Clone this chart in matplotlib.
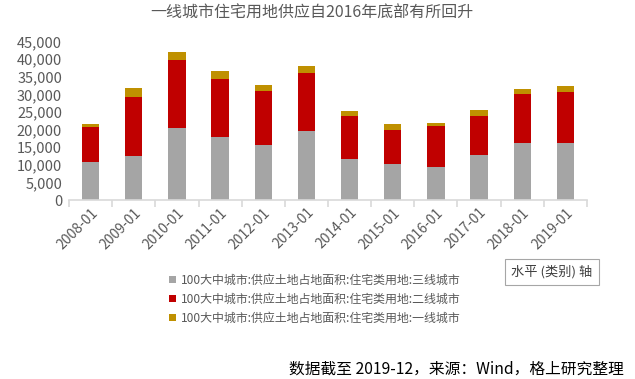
import matplotlib.pyplot as plt
import matplotlib.transforms as mtransforms
import numpy as np

plt.rcParams['font.family'] = ['Noto Sans CJK SC', 'DejaVu Sans']

categories = ['2008-01', '2009-01', '2010-01', '2011-01', '2012-01', '2013-01',
              '2014-01', '2015-01', '2016-01', '2017-01', '2018-01', '2019-01']
tier3 = [10800, 12500, 20450, 17900, 15650, 19600, 11650, 10250, 9400, 12800, 16200, 16200]
tier2 = [9950, 16750, 19350, 16500, 15350, 16500, 12200, 9650, 11650, 11100, 13900, 14500]
tier1 = [850, 2550, 2250, 2250, 1700, 2000, 1400, 1700, 850, 1700, 1400, 1700]

labels = ['100大中城市:供应土地占地面积:住宅类用地:三线城市',
          '100大中城市:供应土地占地面积:住宅类用地:二线城市',
          '100大中城市:供应土地占地面积:住宅类用地:一线城市']
colors = ['#a5a5a5', '#c00000', '#bf9000']

fig = plt.figure(figsize=(6.35, 3.79), dpi=100)
ax = fig.add_axes([69/635, 1-200/379, (587-69)/635, (200-41.7)/379])

x = np.arange(len(categories))
b1 = ax.bar(x, tier3, width=0.4, color=colors[0])
b2 = ax.bar(x, tier2, width=0.4, bottom=tier3, color=colors[1])
bottom2 = np.array(tier3) + np.array(tier2)
b3 = ax.bar(x, tier1, width=0.4, bottom=bottom2, color=colors[2])

ax.set_xlim(-0.5, len(categories) - 0.5)
ax.set_ylim(0, 45000)
ax.set_yticks(np.arange(0, 45001, 5000))
ax.set_yticklabels(['{:,}'.format(v) for v in range(0, 45001, 5000)])
ax.set_xticks(x)
ax.set_xticklabels(categories, rotation=45, ha='right', rotation_mode='anchor')
ax.set_xticks(np.arange(-0.5, len(categories)), minor=True)

# shift rotated labels a little to the right like the original
offset = mtransforms.ScaledTranslation(5/100, 0, fig.dpi_scale_trans)
for lab in ax.get_xticklabels():
    lab.set_transform(lab.get_transform() + offset)

for s in ['top', 'right', 'left']:
    ax.spines[s].set_visible(False)
ax.spines['bottom'].set_color('#d9d9d9')
ax.spines['bottom'].set_linewidth(1.2)
ax.tick_params(axis='y', length=0, labelsize=10.5, labelcolor='#595959', pad=5)
ax.tick_params(axis='x', which='major', length=0, labelsize=10, labelcolor='#595959', pad=4)
ax.tick_params(axis='x', which='minor', length=5, color='#d9d9d9', width=1.2)

fig.text(312/635, 1-13/379, '一线城市住宅用地供应自2016年底部有所回升',
         ha='center', va='center', fontsize=11.5, color='#595959')

leg = fig.legend([b1, b2, b3], labels, loc='upper left', bbox_to_anchor=(164/635, 1-269/379),
                 frameon=False, fontsize=8.6, handlelength=0.6, handleheight=0.6,
                 handletextpad=0.45, labelspacing=0.5, borderaxespad=0)
for t in leg.get_texts():
    t.set_color('#595959')

fig.text(552/635, 1-272/379, '水平 (类别) 轴', ha='center', va='center', fontsize=9.5,
         color='#404040',
         bbox=dict(boxstyle='square,pad=0.45', fc='white', ec='#a6a6a6', lw=0.8))

fig.text(624/635, 1-369/379, '数据截至 2019-12，来源：Wind，格上研究整理',
         ha='right', va='center', fontsize=11.3, color='black')

fig.savefig('out.png', dpi=100)
